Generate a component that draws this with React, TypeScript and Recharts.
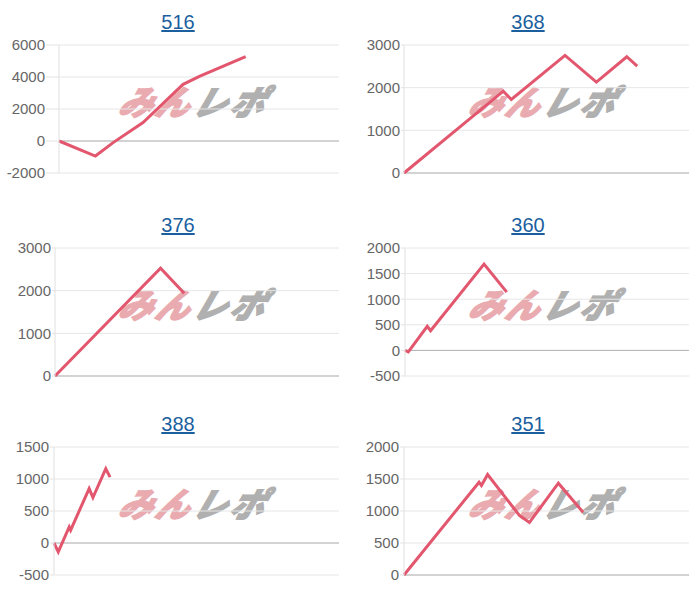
import React from "react";
import {
  LineChart,
  Line,
  XAxis,
  YAxis,
  CartesianGrid,
  ReferenceLine,
} from "recharts";

// 各台の差枚推移 (x = 経過, y = 差枚)
const titles = ["516", "368", "376", "360", "388", "351"];

const x516 = [0, 7.8, 11.6, 18, 26.6, 30.2, 40];
const y516 = [0, -940, -100, 1150, 3540, 4060, 5270];

const x368 = [0, 20.9, 22.6, 33.9, 40.5, 46.9, 49.1];
const y368 = [0, 1918, 1723, 2756, 2130, 2725, 2506];

const x376 = [0, 22.3, 27.3];
const y376 = [0, 2527, 1939];

const x360 = [0, 0.7, 4.7, 5.4, 16.7, 21.5];
const y360 = [0, -30, 470, 384, 1686, 1139];

const x388 = [0, 0.9, 3.2, 3.5, 7.4, 8.2, 10.9, 11.8];
const y388 = [0, -140, 250, 200, 850, 710, 1160, 1030];

const x351 = [0, 15.8, 16.3, 17.6, 24.3, 26.4, 32.5, 37.7];
const y351 = [0, 1450, 1400, 1570, 930, 820, 1435, 980];

const ticks516 = [-2000, 0, 2000, 4000, 6000];
const ticks368 = [0, 1000, 2000, 3000];
const ticks376 = [0, 1000, 2000, 3000];
const ticks360 = [-500, 0, 500, 1000, 1500, 2000];
const ticks388 = [-500, 0, 500, 1000, 1500];
const ticks351 = [0, 500, 1000, 1500, 2000];

const xs = [x516, x368, x376, x360, x388, x351];
const ys = [y516, y368, y376, y360, y388, y351];
const tickSets = [ticks516, ticks368, ticks376, ticks360, ticks388, ticks351];

const axisWidth = [59, 54, 55, 55, 54, 54];
const labelGap = [14, 4, 4, 5, 5, 5];
const rowTops = [0, 203, 402];

const font = "'Liberation Sans', Arial, sans-serif";

function Panel({ idx }: { idx: number }) {
  const data = xs[idx].map((d, i) => ({ day: d, value: ys[idx][i] }));
  const ticks = tickSets[idx];
  const left = idx % 2 === 0 ? 0 : 350;
  const top = rowTops[Math.floor(idx / 2)];
  return (
    <div style={{ position: "absolute", left, top, width: 356, height: 200 }}>
      <div
        style={{
          position: "absolute",
          top: 9,
          left: 0,
          width: 356,
          textAlign: "center",
          fontFamily: font,
          fontSize: 20,
          lineHeight: "26px",
        }}
      >
        <a href="#" style={{ color: "#1b5f9e", textDecoration: "underline" }}>
          {titles[idx]}
        </a>
      </div>
      {/* watermark */}
      <div
        style={{
          position: "absolute",
          zIndex: 0,
          left: 121,
          top: 82,
          width: 170,
          whiteSpace: "nowrap",
          fontFamily: "'Noto Sans CJK JP', sans-serif",
          fontWeight: 900,
          fontStyle: "italic",
          fontSize: 34,
          lineHeight: "38px",
          letterSpacing: 3,
          transform: "skewX(-18deg)",
        }}
      >
        <span style={{ color: "#e9abb0", WebkitTextStroke: "1.5px #e9abb0" }}>みん</span>
        <span style={{ color: "#b0b0b0", WebkitTextStroke: "1.5px #b0b0b0" }}>レポ</span>
      </div>
      <div style={{ position: "absolute", left: 0, top: 0, zIndex: 1 }}>
        <LineChart
          width={345}
          height={200}
          data={data}
          margin={{ top: 45, right: 6, bottom: 27, left: 0 }}
        >
          <CartesianGrid vertical={false} stroke="#e6e6e6" />
          <XAxis dataKey="day" type="number" domain={[0, 60]} hide />
          <YAxis
            width={axisWidth[idx]}
            domain={[ticks[0], ticks[ticks.length - 1]]}
            ticks={ticks}
            interval={0}
            tickLine={{ stroke: "#e3e3e3" }}
            tickSize={labelGap[idx] - 1}
            tickMargin={1}
            axisLine={{ stroke: "#e0e0e0" }}
            tick={{ fill: "#666666", fontSize: 15, fontFamily: font }}
          />
          <ReferenceLine y={0} stroke="#b3b3b3" />
          <Line
            type="linear"
            dataKey="value"
            stroke="#e2566e"
            strokeWidth={3}
            dot={false}
            isAnimationActive={false}
          />
        </LineChart>
      </div>
    </div>
  );
}

export default function App() {
  return (
    <div
      style={{
        position: "absolute",
        left: 0,
        top: 0,
        width: 700,
        height: 600,
        background: "#ffffff",
      }}
    >
      {titles.map((t, i) => (
        <Panel key={t} idx={i} />
      ))}
    </div>
  );
}
